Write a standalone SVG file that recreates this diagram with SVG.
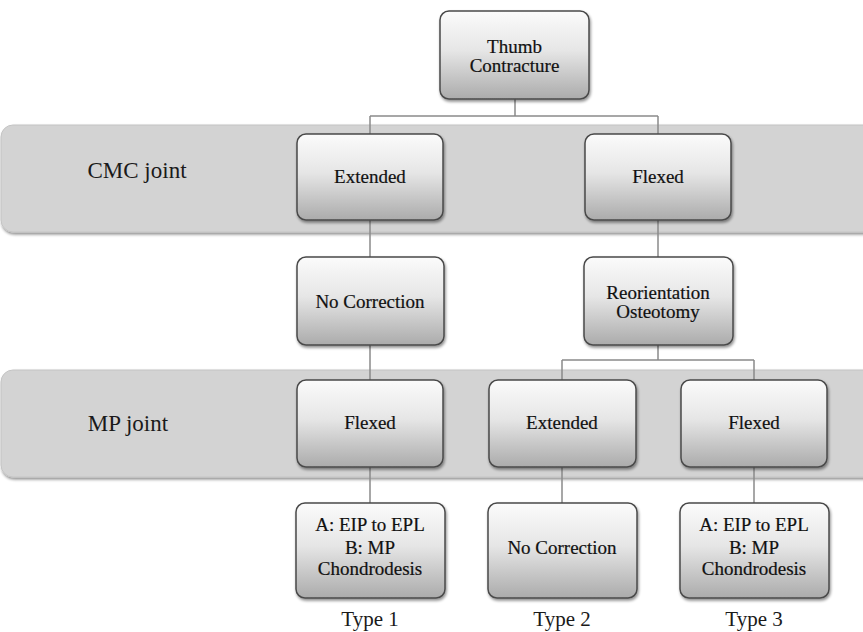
<svg xmlns="http://www.w3.org/2000/svg" width="863" height="632" viewBox="0 0 863 632">
<defs>
<linearGradient id="boxGrad" x1="0" y1="0" x2="0" y2="1">
<stop offset="0" stop-color="#fbfbfb"/>
<stop offset="0.45" stop-color="#e6e6e6"/>
<stop offset="1" stop-color="#ababab"/>
</linearGradient>
<filter id="shadow" x="-10%" y="-10%" width="125%" height="130%">
<feGaussianBlur in="SourceAlpha" stdDeviation="1.5"/>
<feOffset dx="1" dy="2" result="b"/>
<feComponentTransfer><feFuncA type="linear" slope="0.45"/></feComponentTransfer>
<feMerge><feMergeNode/><feMergeNode in="SourceGraphic"/></feMerge>
</filter>
</defs>
<style>
.band{fill:#d3d3d3;stroke:#c4c4c4;stroke-width:1}
.box{fill:url(#boxGrad);stroke:#4a4a4a;stroke-width:1.5}
.t{font-family:"Liberation Serif","Times New Roman",serif;font-size:19px;fill:#111111;text-anchor:middle;stroke:#111111;stroke-width:0.2}
.lbl{font-family:"Liberation Serif","Times New Roman",serif;font-size:23px;fill:#1a1a1a;text-anchor:middle}
.conn{stroke:#8a8a8a;stroke-width:1.5;fill:none}
</style>
<rect width="863" height="632" fill="#ffffff"/>
<g id="bands">
<rect class="band" x="1" y="125" width="880" height="107" rx="12" filter="url(#shadow)"/>
<rect class="band" x="1" y="370" width="880" height="107" rx="12" filter="url(#shadow)"/>
</g>
<g id="connectors">
<path class="conn" d="M515 99V116M370 116H658M370 116V134M658 116V134"/>
<path class="conn" d="M370 220V257M658 220V257"/>
<path class="conn" d="M370 345V380"/>
<path class="conn" d="M658 345V360M562 360H754M562 360V380M754 360V380"/>
<path class="conn" d="M370 467V503M562 467V503M754 467V503"/>
</g>
<g id="row-labels">
<text class="lbl" x="137" y="178">CMC joint</text>
<text class="lbl" x="128" y="431">MP joint</text>
</g>
<g id="thumb">
<rect class="box" x="440" y="11" width="149" height="88" rx="9" filter="url(#shadow)"/>
<text class="t" x="514.5" y="53">Thumb</text>
<text class="t" x="514.5" y="72">Contracture</text>
</g>
<g id="cmc-extended">
<rect class="box" x="297" y="134" width="146" height="86" rx="9" filter="url(#shadow)"/>
<text class="t" x="370" y="183">Extended</text>
</g>
<g id="cmc-flexed">
<rect class="box" x="585" y="134" width="146" height="86" rx="9" filter="url(#shadow)"/>
<text class="t" x="658" y="183">Flexed</text>
</g>
<g id="no-correction-1">
<rect class="box" x="297" y="257" width="147" height="88" rx="9" filter="url(#shadow)"/>
<text class="t" x="370" y="308">No Correction</text>
</g>
<g id="reorientation">
<rect class="box" x="584" y="257" width="149" height="88" rx="9" filter="url(#shadow)"/>
<text class="t" x="658" y="299">Reorientation</text>
<text class="t" x="658" y="318">Osteotomy</text>
</g>
<g id="mp-flexed-1">
<rect class="box" x="297" y="380" width="146" height="87" rx="9" filter="url(#shadow)"/>
<text class="t" x="370" y="429">Flexed</text>
</g>
<g id="mp-extended">
<rect class="box" x="489" y="380" width="147" height="87" rx="9" filter="url(#shadow)"/>
<text class="t" x="562" y="429">Extended</text>
</g>
<g id="mp-flexed-2">
<rect class="box" x="681" y="380" width="146" height="87" rx="9" filter="url(#shadow)"/>
<text class="t" x="754" y="429">Flexed</text>
</g>
<g id="type1-box">
<rect class="box" x="296" y="503" width="149" height="95" rx="9" filter="url(#shadow)"/>
<text class="t" x="370" y="531">A: EIP to EPL</text>
<text class="t" x="370" y="554">B: MP</text>
<text class="t" x="370" y="575">Chondrodesis</text>
</g>
<g id="type2-box">
<rect class="box" x="488" y="503" width="149" height="95" rx="9" filter="url(#shadow)"/>
<text class="t" x="562" y="554">No Correction</text>
</g>
<g id="type3-box">
<rect class="box" x="680" y="503" width="149" height="95" rx="9" filter="url(#shadow)"/>
<text class="t" x="754" y="531">A: EIP to EPL</text>
<text class="t" x="754" y="554">B: MP</text>
<text class="t" x="754" y="575">Chondrodesis</text>
</g>
<g id="type-labels">
<text class="lbl" x="370" y="626" style="font-size:21px">Type 1</text>
<text class="lbl" x="562" y="626" style="font-size:21px">Type 2</text>
<text class="lbl" x="754" y="626" style="font-size:21px">Type 3</text>
</g>
</svg>
